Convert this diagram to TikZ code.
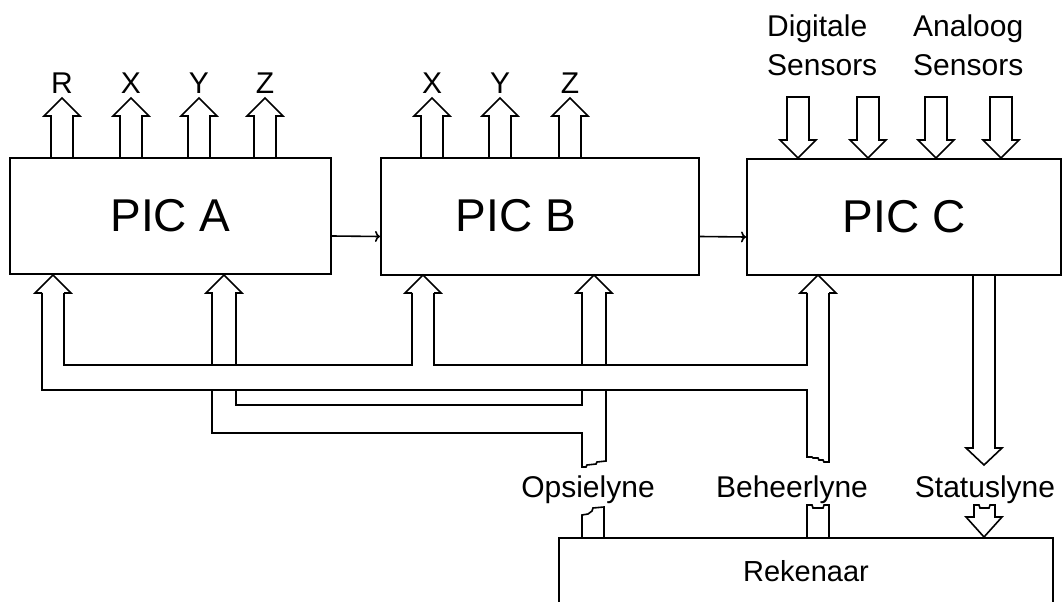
\documentclass[tikz,border=0pt]{standalone}
\usepackage{fontspec}
\setmainfont{Liberation Sans}
\usetikzlibrary{arrows.meta}
\begin{document}
\begin{tikzpicture}[x=1pt, y=-1pt,
    box/.style={draw, line width=2pt, inner sep=0pt},
    busline/.style={line width=1.6pt, line join=miter},
    link/.style={line width=1.6pt, -{To[length=5pt, width=11pt]}},
    lbl/.style={font=\fontsize{30}{36}\selectfont, inner sep=0pt},
    pictext/.style={font=\fontsize{46}{50}\selectfont, inner sep=0pt}]
    \useasboundingbox (0,0) rectangle (1063,602);
    \clip (0,0) rectangle (1063,602);

    % PIC boxes
    \node[box, pictext, minimum width=321pt, minimum height=116pt] (pica) at (170.5,216) {PIC A};
    \node[box, minimum width=318pt, minimum height=117pt] (picb) at (540,216.5) {};
    \node[pictext] (picbtext) at (516,216) {PIC B};
    \node[box, pictext, minimum width=314pt, minimum height=116pt] (picc) at (904,217) {PIC C};

    % Rekenaar
    \node[box, font=\fontsize{29}{34}\selectfont, minimum width=494pt, minimum height=66pt] (rek) at (806,571) {Rekenaar};

    % links between the PICs
    \draw[link] ([yshift=-20pt]pica.east) -- ([yshift=-20pt]picb.west);
    \draw[link] ([yshift=-20pt]picb.east) -- ([yshift=-20pt]picc.west);

    % outputs of PIC A and PIC B
    \foreach \x/\t in {62/R, 131/X, 199/Y, 265/Z} {
        \draw[busline] (\x-11,158) -- (\x-11,116) -- (\x-18,116) -- (\x,98) -- (\x+18,116) -- (\x+11,116) -- (\x+11,158);
        \node[lbl, anchor=base] (a\t) at (\x,93) {\t};
    }
    \foreach \x/\t in {432/X, 500/Y, 570/Z} {
        \draw[busline] (\x-11,158) -- (\x-11,116) -- (\x-18,116) -- (\x,98) -- (\x+18,116) -- (\x+11,116) -- (\x+11,158);
        \node[lbl, anchor=base] (b\t) at (\x,93) {\t};
    }

    % sensors into PIC C
    \foreach \x in {798, 868, 936, 1001} {
        \draw[busline] (\x-11,97) -- (\x-11,140) -- (\x-18,140) -- (\x,158) -- (\x+18,140) -- (\x+11,140) -- (\x+11,97) -- cycle;
    }
    \node[lbl, anchor=base west] (digi) at (767,37) {Digitale};
    \node[lbl, anchor=base west] (digisens) at (767,75) {Sensors};
    \node[lbl, anchor=base west] (ana) at (913,37) {Analoog};
    \node[lbl, anchor=base west] (anasens) at (913,75) {Sensors};

    % Beheerlyne bus
    \foreach \x in {53, 423, 818} {
        \draw[busline] (\x-11,293) -- (\x-18,293) -- (\x,275) -- (\x+18,293) -- (\x+11,293);
    }
    \draw[busline] (42,293) -- (42,390) -- (807,390) -- (807,457) -- (812,457) -- (813,458) -- (818,458) -- (819,460) -- (823,460) -- (824,462) -- (829,462) -- (829,293);
    \draw[busline] (64,293) -- (64,365) -- (412,365) -- (412,293);
    \draw[busline] (434,293) -- (434,365) -- (807,365) -- (807,293);

    % Opsielyne bus
    \foreach \x in {224, 594} {
        \draw[busline] (\x-12,365) -- (\x-12,293) -- (\x-18,293) -- (\x,275) -- (\x+18,293) -- (\x+12,293) -- (\x+12,365);
    }
    \draw[busline] (212,390) -- (212,433) -- (582,433) -- (582,467) -- (586,467) -- (587,465) -- (596,464) -- (597,462) -- (606,461) -- (606,390);
    \draw[busline] (236,390) -- (236,405) -- (582,405) -- (582,390);

    % Statuslyne
    \draw[busline] (973,275) -- (973,448) -- (966,448) -- (984,465) -- (1002,448) -- (995,448) -- (995,275);

    % stubs on the Rekenaar
    \draw[busline] (582,538) -- (582,515) -- (588,514) -- (592,511) -- (593,508) -- (604,507) -- (604,538);
    \draw[busline] (807,538) -- (807,505) -- (812,505) -- (813,508) -- (823,508) -- (824,505) -- (829,505) -- (829,538);
    \draw[busline] (974,517) -- (974,505) -- (979,505) -- (980,508) -- (989,508) -- (990,505) -- (995,505) -- (995,517) -- (1002,517) -- (984,537) -- (966,517) -- cycle;

    % bus labels
    \node[lbl, anchor=base] (ops) at (588,497) {Opsielyne};
    \node[lbl, anchor=base] (beh) at (792,497) {Beheerlyne};
    \node[lbl, anchor=base] (stat) at (985,497) {Statuslyne};
\end{tikzpicture}
\end{document}
